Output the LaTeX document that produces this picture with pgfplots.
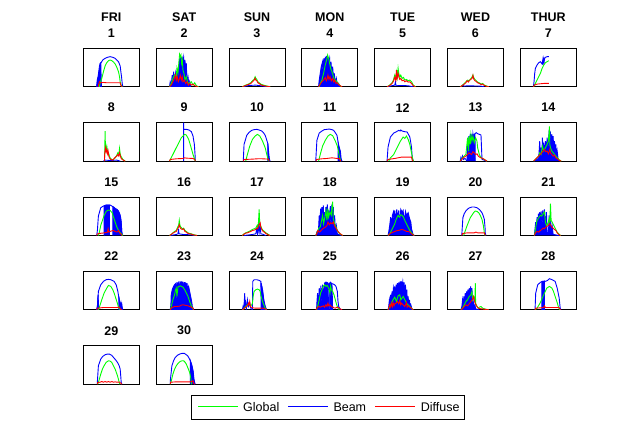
\documentclass[border=0pt]{standalone}
\usepackage{fontspec}
\setmainfont{Liberation Sans}
\usepackage{pgfplots}
\pgfplotsset{compat=1.18}
\newcommand{\tf}{\fontsize{12.5}{14}\selectfont\bfseries}
\pgfplotsset{panel/.style={width=56pt,height=38.5pt,scale only axis,xmin=0,xmax=167,ymin=0,ymax=115,
  xtick=\empty,ytick=\empty,anchor=north west,axis line style={line width=0.9pt},
  every axis plot/.append style={line width=0.9pt}}}
\newcommand{\B}[1]{\addplot[blue] coordinates {#1};}
\newcommand{\BF}[1]{\addplot[blue,fill=blue] coordinates {#1};}
\newcommand{\panel}[6]{%
 \pgfmathsetmacro{\PXX}{83.3+72.83*#1}%
 \pgfmathsetmacro{\PYY}{381.7-74.35*#2}%
 \begin{axis}[panel,at={(\PXX pt,\PYY pt)}]
 #4
 \addplot[green] coordinates {#5};
 \addplot[red] coordinates {#6};
 \end{axis}
 \node[font=\tf] at ({\PXX pt+28pt},{\PYY pt+15pt}) {#3};
}
\begin{document}
\begin{tikzpicture}
\path[use as bounding box] (0,0) rectangle (636pt,430pt);
% weekday names
\foreach \n [count=\i from 0] in {FRI,SAT,SUN,MON,TUE,WED,THUR}{
  \pgfmathsetmacro{\QX}{83.3+72.83*\i+28}
  \node[font=\tf] at (\QX pt,413pt) {\n};
}
% ---- row 1
\panel{0}{0}{1}
{\BF{(40,0) (42,20) (44,30) (46,45) (48,60) (50,70) (52,72) (54,0)}
 \B{(40,0) (42,20) (44,8) (46,35) (48,25) (50,55) (52,70) (58,80) (65,85) (72,88) (80,90) (88,88) (95,85) (100,80) (105,75) (110,62) (112,45) (114,30) (116,10) (118,0)}}
{(48,0) (50,10) (55,25) (60,45) (65,62) (70,72) (75,78) (80,80) (85,78) (90,74) (95,68) (100,58) (105,45) (108,30) (110,15) (113,5) (116,0)}
{(44,0) (46,8) (48,15) (50,12) (60,13) (70,12) (80,12) (90,12) (100,12) (110,12) (112,4) (116,0)}
\panel{1}{0}{2}
{\BF{(40,0) (42,15) (45,5) (48,35) (50,10) (52,45) (55,20) (58,40) (60,15) (62,30) (65,50) (67,20) (70,85) (72,60) (74,90) (76,70) (78,85) (80,75) (82,88) (84,60) (86,80) (88,40) (90,70) (92,10) (95,30) (98,5) (100,15) (103,0)}}
{(40,0) (45,10) (50,25) (55,35) (60,30) (62,55) (65,40) (68,75) (70,97) (72,90) (74,95) (76,70) (78,80) (80,50) (83,40) (86,20) (90,30) (95,10) (100,12) (105,15) (110,5) (115,12) (120,3) (127,0)}
{(40,0) (45,5) (50,15) (55,25) (58,35) (60,20) (63,30) (66,15) (70,25) (72,35) (75,20) (78,30) (80,15) (84,20) (88,10) (92,15) (96,5) (100,10) (105,5) (110,8) (115,3) (125,0)}
\panel{2}{0}{3}
{\B{(45,0) (50,2) (60,4) (80,5) (95,3) (110,1) (115,0)}}
{(40,0) (50,5) (58,8) (65,12) (70,18) (75,22) (78,30) (80,25) (83,22) (86,15) (90,12) (95,8) (100,6) (110,3) (123,0)}
{(40,0) (50,4) (58,7) (65,10) (70,15) (75,20) (78,26) (80,20) (83,18) (86,12) (90,10) (95,6) (100,4) (110,2) (123,0)}
\panel{3}{0}{4}
{\BF{(50,0) (52,20) (55,40) (58,60) (62,75) (63,30) (64,80) (65,45) (66,85) (68,50) (70,90) (72,60) (74,92) (76,60) (78,88) (80,70) (83,85) (85,40) (87,75) (90,30) (92,60) (95,20) (97,40) (100,10) (103,25) (106,5) (110,10) (113,0)}}
{(52,0) (55,10) (60,20) (65,40) (70,65) (74,80) (77,95) (80,85) (83,70) (86,55) (90,45) (93,35) (96,25) (100,20) (105,15) (110,8) (115,3) (118,0)}
{(50,0) (55,8) (60,15) (65,20) (70,28) (73,18) (76,25) (78,35) (81,22) (84,30) (88,18) (92,25) (95,15) (98,20) (102,10) (106,12) (110,6) (115,3) (120,0)}
\panel{4}{0}{5}
{\B{(40,0) (50,3) (60,5) (62,15) (64,3) (80,4) (100,3) (115,0)}}
{(37,0) (45,5) (52,12) (56,20) (60,35) (63,25) (66,45) (68,30) (70,55) (72,40) (75,28) (78,35) (82,25) (86,28) (90,20) (95,22) (100,18) (105,20) (110,15) (115,5) (122,0)}
{(37,0) (45,4) (52,10) (56,16) (60,28) (63,20) (65,50) (67,25) (70,40) (72,30) (75,22) (78,25) (82,18) (86,20) (90,15) (95,18) (100,14) (105,15) (110,10) (115,3) (122,0)}
\panel{5}{0}{6}
{\B{(40,0) (45,5) (50,2) (60,3) (100,2) (110,0)}}
{(38,0) (45,5) (50,10) (55,15) (60,20) (65,18) (70,25) (74,30) (76,35) (78,28) (82,22) (86,18) (90,14) (95,12) (100,8) (105,10) (110,5) (115,3) (123,0)}
{(38,0) (45,4) (50,8) (55,12) (58,18) (62,14) (66,20) (70,22) (74,26) (76,34) (78,24) (82,18) (86,16) (90,12) (95,10) (100,7) (105,8) (110,4) (115,2) (123,0)}
\panel{6}{0}{7}
{\B{(39,0) (41,15) (43,40) (45,55) (50,65) (55,72) (60,75) (65,68) (67,80) (68,66) (70,82) (71,70) (72,84) (75,88) (80,90) (85,90)}}
{(40,0) (45,10) (50,20) (55,30) (60,40) (65,55) (70,65) (75,72) (80,75) (85,78)}
{(39,0) (42,5) (50,8) (60,9) (70,10) (80,10) (85,10)}
% ---- row 2
\panel{0}{1}{8}
{\B{(60,0) (65,3) (80,2) (100,3) (110,0)}}
{(63,0) (64,30) (65,90) (66,40) (68,35) (70,45) (72,30) (75,25) (78,15) (80,10) (85,5) (90,5) (95,10) (100,18) (103,25) (106,20) (108,38) (110,22) (112,15) (115,10) (118,5) (125,0)}
{(63,0) (64,25) (66,40) (68,28) (70,35) (72,22) (74,30) (76,15) (78,10) (82,5) (88,3) (92,8) (96,12) (100,15) (103,20) (106,15) (108,25) (110,18) (112,10) (116,5) (125,0)}
\panel{1}{1}{9}
{\B{(82,0) (82,115) (82,95) (90,95) (98,93) (105,88) (110,75) (114,50) (116,20) (117,0)}}
{(40,0) (45,10) (55,30) (65,50) (75,70) (85,80) (90,78) (97,65) (103,45) (110,20) (115,5) (117,0)}
{(40,0) (42,5) (60,7) (80,8) (85,10) (90,9) (110,8) (115,5) (117,0)}
\panel{2}{1}{10}
{\BF{(116,0) (116,52) (118,30) (120,10) (122,0)}
 \B{(43,0) (43,7) (45,50) (53,77) (60,86) (68,92) (75,94) (83,95) (90,93) (98,90) (103,85) (108,77) (112,65) (116,52) (118,12) (120,5) (122,0)}}
{(50,0) (55,20) (62,45) (70,65) (78,75) (85,80) (92,75) (100,60) (108,40) (114,15) (118,0)}
{(43,0) (45,5) (70,6) (85,7) (100,7) (118,6) (120,0)}
\panel{3}{1}{11}
{\BF{(108,0) (109,52) (112,40) (115,30) (117,10) (119,0)}
 \B{(42,0) (42,7) (45,62) (52,84) (60,90) (67,94) (75,95) (82,96) (90,94) (95,92) (100,85) (105,77) (109,52) (112,12) (117,5) (120,0)}}
{(50,0) (55,20) (62,45) (70,62) (78,75) (85,80) (92,76) (100,60) (106,45) (112,15) (116,0)}
{(42,0) (44,5) (60,7) (75,8) (90,10) (105,8) (112,8) (116,0)}
\panel{4}{1}{12}
{\B{(37,0) (40,42) (47,72) (57,84) (65,88) (72,92) (76,90) (78,93) (82,90) (90,88) (97,87) (105,72) (110,42) (112,12) (115,0)}}
{(42,0) (47,10) (57,20) (67,40) (77,60) (85,72) (90,68) (95,75) (100,65) (105,50) (110,25) (114,5) (116,0)}
{(37,0) (40,5) (60,8) (80,12) (100,12) (110,12) (112,3) (115,0)}
\panel{5}{1}{13}
{\BF{(58,0) (60,60) (62,20) (64,75) (66,40) (68,82) (70,60) (72,80) (74,30) (76,82) (78,70) (80,80) (82,82) (83,0)}
 \B{(38,0) (40,10) (42,2) (45,15) (48,5) (52,8) (55,5) (58,0)}
 \B{(82,82) (86,85) (90,82) (95,80) (100,78) (102,30) (103,5) (110,3) (115,0)}}
{(38,0) (45,10) (50,15) (55,20) (60,70) (63,30) (65,75) (68,50) (70,80) (73,60) (76,75) (80,55) (84,70) (88,60) (90,40) (95,20) (100,10) (105,8) (110,5) (118,0)}
{(38,0) (45,8) (50,12) (55,15) (60,20) (64,25) (68,22) (72,20) (76,28) (80,25) (84,20) (88,22) (92,15) (96,12) (100,10) (105,8) (110,5) (118,0)}
\panel{6}{1}{14}
{\BF{(40,0) (50,5) (55,10) (58,60) (60,15) (62,40) (64,5) (66,70) (68,20) (70,55) (72,10) (75,60) (78,30) (80,70) (83,40) (86,87) (88,80) (90,85) (92,50) (94,80) (96,30) (98,75) (100,20) (102,60) (104,15) (106,50) (108,10) (110,30) (113,5) (118,0)}}
{(40,0) (45,5) (50,10) (55,15) (58,25) (62,20) (66,45) (70,30) (75,40) (80,50) (84,60) (87,104) (88,50) (90,40) (94,30) (98,25) (102,20) (106,15) (110,10) (115,5) (122,0)}
{(40,0) (45,5) (50,10) (55,15) (60,20) (64,25) (68,30) (72,35) (76,28) (80,30) (84,22) (88,35) (90,25) (94,20) (98,15) (102,18) (106,10) (110,8) (115,3) (122,0)}
% ---- row 3
\panel{0}{2}{15}
{\BF{(62,0) (62,88) (66,90) (70,91) (74,91) (78,91) (78,0)}
 \BF{(88,0) (88,86) (92,84) (96,80) (100,78) (104,74) (108,66) (111,55) (113,40) (115,8) (115,0)}
 \B{(40,0) (42,15) (45,58) (52,83) (60,88) (68,91) (75,91) (80,91) (85,88) (90,85) (95,80) (100,78) (105,72) (110,60) (113,40) (115,8) (118,0)}}
{(45,0) (48,10) (52,30) (57,45) (62,60) (68,72) (74,76) (80,75) (86,68) (90,55) (95,40) (100,25) (105,15) (110,8) (115,3) (118,0)}
{(40,0) (42,5) (55,7) (65,8) (72,10) (74,20) (76,10) (80,12) (85,14) (90,15) (95,12) (100,10) (105,15) (108,8) (112,5) (116,0)}
\panel{1}{2}{16}
{\B{(42,0) (60,3) (65,5) (67,20) (68,5) (80,3) (105,2) (115,0)}}
{(40,0) (45,3) (50,8) (55,12) (60,15) (64,25) (67,30) (69,45) (71,30) (74,25) (78,20) (82,22) (86,15) (90,12) (95,8) (100,6) (105,5) (110,3) (122,0)}
{(40,0) (45,3) (50,7) (55,10) (60,12) (64,20) (67,25) (69,32) (71,25) (74,20) (78,18) (82,20) (86,12) (90,10) (95,6) (100,5) (105,4) (110,2) (122,0)}
\panel{2}{2}{17}
{\B{(45,0) (70,3) (80,5) (83,20) (85,5) (88,30) (90,8) (93,35) (95,5) (100,4) (110,0)}}
{(40,0) (45,5) (50,8) (55,10) (60,12) (65,15) (70,18) (75,20) (80,22) (84,30) (86,25) (88,40) (90,78) (92,30) (95,28) (98,20) (102,15) (106,12) (110,8) (115,5) (122,0)}
{(40,0) (45,4) (50,7) (55,8) (60,10) (65,12) (70,15) (75,16) (80,18) (84,22) (86,20) (88,28) (90,32) (93,38) (95,25) (98,18) (102,12) (106,10) (110,6) (115,3) (122,0)}
\panel{3}{2}{18}
{\BF{(42,0) (45,10) (48,5) (50,20) (52,60) (54,15) (56,80) (58,20) (60,85) (62,30) (64,90) (66,40) (68,70) (70,20) (72,85) (74,50) (76,93) (78,30) (80,75) (82,40) (85,88) (87,20) (90,93) (92,50) (94,85) (96,20) (98,60) (100,15) (103,30) (106,5) (110,3) (118,0)}}
{(42,0) (45,8) (50,20) (55,25) (58,40) (62,60) (65,35) (68,50) (72,75) (75,45) (78,80) (80,55) (84,70) (88,60) (90,85) (92,101) (94,50) (98,35) (102,25) (106,15) (110,8) (115,4) (122,0)}
{(42,0) (45,6) (48,15) (52,10) (55,12) (60,18) (65,22) (70,25) (75,30) (78,40) (82,32) (86,38) (90,35) (94,40) (98,28) (102,22) (106,15) (110,10) (115,5) (122,0)}
\panel{4}{2}{19}
{\BF{(40,0) (42,10) (45,30) (48,55) (50,20) (53,60) (56,70) (58,35) (60,75) (63,40) (66,78) (69,50) (72,75) (75,30) (78,78) (82,70) (85,75) (88,40) (92,72) (95,60) (100,68) (103,55) (106,45) (108,40) (110,20) (114,5) (118,0)}}
{(40,0) (45,5) (50,15) (55,25) (60,35) (65,50) (70,60) (74,55) (78,62) (82,60) (86,55) (90,45) (95,35) (100,25) (105,15) (110,8) (114,3) (118,0)}
{(40,0) (45,5) (50,8) (55,10) (60,12) (65,14) (70,15) (75,16) (80,18) (85,17) (90,15) (95,12) (100,12) (105,10) (110,5) (115,2) (118,0)}
\panel{5}{2}{20}
{\B{(43,0) (43,5) (46,53) (50,65) (56,75) (64,82) (73,85) (80,85) (88,83) (96,77) (103,68) (107,58) (110,48) (112,25) (113,5) (115,0)}}
{(48,0) (50,5) (58,28) (68,53) (78,68) (83,73) (88,72) (93,68) (98,60) (103,48) (107,30) (110,8) (112,0)}
{(43,0) (45,6) (60,8) (80,8) (85,10) (90,8) (110,8) (113,0)}
\panel{6}{2}{21}
{\BF{(42,0) (44,20) (46,40) (48,10) (50,55) (52,25) (54,65) (56,35) (58,70) (60,40) (62,72) (65,30) (67,75) (70,50) (72,78) (75,20) (78,70) (80,10) (84,5) (86,60) (88,10) (90,45) (92,5) (95,30) (98,3) (105,2) (115,0)}}
{(42,0) (44,10) (47,30) (50,45) (53,50) (56,55) (60,60) (64,58) (68,65) (72,70) (75,40) (78,30) (82,35) (86,50) (88,40) (90,95) (92,45) (95,40) (100,30) (105,20) (110,10) (115,5) (120,0)}
{(42,0) (45,8) (50,12) (55,10) (60,15) (64,18) (68,22) (72,20) (76,25) (80,28) (84,30) (87,35) (90,32) (94,25) (98,22) (102,18) (106,15) (110,8) (115,3) (120,0)}
% ---- row 4
\panel{0}{3}{22}
{\BF{(40,0) (42,10) (44,45) (46,0)}
 \BF{(106,0) (106,40) (108,25) (110,12) (113,20) (116,5) (117,0)}
 \B{(40,0) (42,10) (45,55) (52,75) (60,85) (68,90) (75,91) (82,90) (92,85) (98,75) (103,55) (108,25) (110,10) (112,20) (113,8) (115,15) (116,5) (118,0)}}
{(45,0) (48,8) (55,30) (62,50) (70,65) (75,73) (82,70) (88,60) (92,50) (100,25) (105,8) (110,0)}
{(40,0) (42,5) (60,7) (80,7) (100,7) (108,8) (110,3) (115,0)}
\panel{1}{3}{23}
{\BF{(42,0) (44,15) (45,45) (48,60) (52,70) (55,75) (60,80) (62,20) (64,82) (66,30) (68,85) (70,25) (72,85) (74,40) (76,85) (78,35) (80,84) (82,50) (84,83) (86,40) (88,82) (90,55) (92,80) (94,60) (97,70) (100,55) (103,40) (106,25) (108,10) (110,5) (112,0)}}
{(42,0) (45,10) (50,30) (55,45) (58,60) (60,65) (62,40) (65,68) (68,70) (72,72) (75,70) (80,68) (85,60) (90,50) (95,40) (100,25) (105,12) (110,3) (112,0)}
{(42,0) (45,5) (50,8) (55,10) (60,10) (70,11) (75,14) (80,15) (85,14) (90,13) (95,12) (100,10) (105,8) (110,5) (112,0)}
\panel{2}{3}{24}
{\BF{(96,0) (96,80) (100,60) (104,30) (108,10) (112,0)}
 \B{(40,0) (42,10) (44,3) (46,30) (47,50) (48,5) (50,20) (52,5) (55,30) (58,10) (62,20) (65,5) (70,0) (71,85) (75,90) (83,90) (90,88) (95,85) (96,40) (98,70) (99,30) (100,60) (102,40) (104,25) (105,20) (108,10) (110,5) (112,0)}}
{(40,0) (45,5) (50,10) (55,15) (60,18) (65,12) (68,15) (70,20) (72,40) (75,55) (80,60) (85,62) (90,60) (93,55) (96,40) (100,25) (104,15) (108,5) (112,0)}
{(40,0) (45,4) (50,8) (55,12) (58,20) (60,15) (62,25) (64,10) (66,8) (70,6) (80,5) (90,5) (100,5) (105,4) (110,2) (112,0)}
\panel{3}{3}{25}
{\BF{(44,0) (45,20) (47,50) (50,15) (52,65) (55,30) (57,72) (60,20) (62,75) (65,40) (68,80) (70,82) (72,83) (75,82) (78,80) (80,0)}
 \BF{(82,0) (82,80) (86,81) (90,79) (92,0)}
 \B{(78,80) (80,60) (82,80) (84,50) (86,81) (88,78) (92,78) (98,75) (102,70) (106,55) (108,25) (110,10) (113,5) (115,0)}}
{(44,0) (47,10) (52,30) (56,50) (60,60) (64,70) (68,75) (72,70) (76,73) (80,65) (84,50) (86,70) (88,60) (92,55) (96,45) (100,30) (104,15) (108,5) (112,0)}
{(42,0) (45,5) (50,10) (55,8) (60,10) (65,12) (68,8) (72,15) (75,10) (78,20) (80,12) (84,15) (88,10) (92,8) (96,6) (100,5) (105,8) (110,6) (115,3) (120,0)}
\panel{4}{3}{26}
{\BF{(40,0) (42,10) (44,30) (46,15) (48,45) (50,25) (52,55) (54,40) (56,65) (58,50) (60,70) (62,35) (64,75) (66,45) (68,80) (70,55) (72,82) (74,60) (76,85) (78,40) (80,85) (82,70) (84,84) (86,60) (88,82) (90,30) (92,75) (94,20) (96,60) (98,10) (100,40) (102,5) (104,30) (106,8) (108,15) (112,0)}}
{(40,0) (45,10) (50,20) (55,30) (60,38) (65,25) (70,42) (75,45) (78,30) (82,35) (85,40) (90,30) (95,20) (100,15) (105,10) (110,5) (115,0)}
{(40,0) (42,5) (45,15) (48,8) (50,20) (53,10) (55,22) (58,12) (60,18) (64,20) (68,25) (72,18) (75,28) (78,15) (80,20) (85,15) (90,10) (95,22) (97,8) (100,12) (105,8) (110,5) (115,0)}
\panel{5}{3}{27}
{\BF{(40,0) (43,10) (45,30) (47,15) (49,40) (51,20) (53,50) (55,25) (57,55) (59,30) (61,60) (63,35) (65,65) (67,40) (69,70) (71,50) (73,65) (75,10) (77,25) (79,5) (82,15) (84,3) (88,2) (95,0)}}
{(40,0) (45,5) (50,15) (55,25) (60,30) (65,40) (70,45) (73,55) (75,30) (78,40) (80,35) (82,25) (83,80) (84,20) (86,15) (88,10) (92,5) (95,8) (100,10) (105,5) (110,3) (123,0)}
{(40,0) (45,4) (50,10) (55,15) (60,12) (65,18) (70,25) (74,30) (76,35) (78,40) (80,30) (82,22) (85,15) (88,10) (92,5) (95,4) (100,3) (110,2) (123,0)}
\panel{6}{3}{28}
{\BF{(64,0) (64,84) (67,85) (70,85) (72,86) (72,0)}
 \B{(44,0) (46,50) (52,75) (60,82) (66,85) (74,85) (80,87) (87,93) (95,90) (104,85) (110,65) (116,35) (119,5) (121,0)}}
{(44,0) (50,5) (59,20) (69,43) (79,65) (87,70) (94,65) (99,55) (104,40) (109,25) (114,8) (117,0)}
{(44,0) (46,5) (60,6) (70,7) (72,12) (75,7) (90,7) (115,7) (118,3) (120,0)}
% ---- row 5
\panel{0}{4}{29}
{\B{(42,0) (42,8) (45,55) (52,75) (58,83) (65,88) (72,90) (78,90) (85,86) (90,80) (97,72) (102,65) (107,55) (110,45) (112,20) (113,5) (115,0)}}
{(43,0) (45,5) (52,30) (57,45) (62,55) (68,65) (75,70) (80,69) (85,65) (90,55) (95,45) (102,25) (106,10) (108,2) (110,0)}
{(42,0) (43,5) (50,6) (55,8) (60,6) (65,8) (70,6) (75,8) (80,6) (85,8) (90,6) (95,7) (100,6) (108,6) (112,3) (115,0)}
\panel{1}{4}{30}
{\BF{(102,0) (102,70) (106,58) (110,40) (113,15) (116,0)}
 \B{(42,0) (42,8) (47,55) (52,70) (57,80) (63,86) (70,90) (77,92) (84,92) (90,88) (94,85) (98,78) (102,70) (106,58) (110,40) (112,8) (114,5) (116,0)}}
{(42,0) (44,5) (50,30) (55,45) (60,55) (66,63) (72,68) (78,70) (82,70) (86,66) (90,60) (95,48) (100,35) (103,20) (105,5) (106,0)}
{(42,0) (43,6) (60,7) (80,7) (100,7) (108,8) (110,10) (112,3) (115,0)}
% ---- legend (box, line samples and labels)
\draw[line width=0.9pt] (191pt,11pt) rectangle (464pt,34.3pt);
\draw[green,line width=0.9pt] (198.3pt,23.3pt) -- (238.3pt,23.3pt);
\draw[blue,line width=0.9pt] (288.3pt,23.3pt) -- (328.3pt,23.3pt);
\draw[red,line width=0.9pt] (375pt,23.3pt) -- (415pt,23.3pt);
\node[anchor=base west,inner sep=0pt,font=\fontsize{12.5}{14}\selectfont] at (243pt,18.7pt) {Global};
\node[anchor=base west,inner sep=0pt,font=\fontsize{12.5}{14}\selectfont] at (333.3pt,18.7pt) {Beam};
\node[anchor=base west,inner sep=0pt,font=\fontsize{12.5}{14}\selectfont] at (420.7pt,18.7pt) {Diffuse};
\end{tikzpicture}
\end{document}
